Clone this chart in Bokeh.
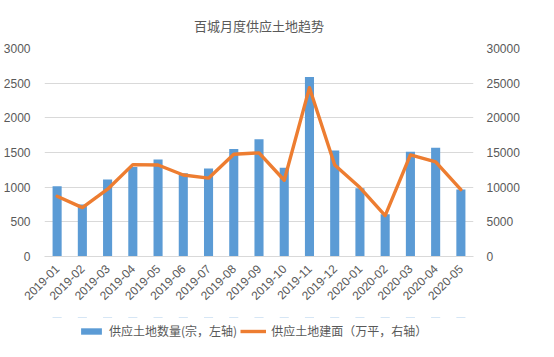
import math
from bokeh.plotting import figure
from bokeh.layouts import column
from bokeh.models import (Range1d, LinearAxis, FactorRange, Legend, LegendItem,
                          FixedTicker, ColumnDataSource)
from bokeh.embed import file_html
from bokeh.resources import INLINE

months = ["2019-01", "2019-02", "2019-03", "2019-04", "2019-05", "2019-06", "2019-07",
          "2019-08", "2019-09", "2019-10", "2019-11", "2019-12", "2020-01", "2020-02",
          "2020-03", "2020-04", "2020-05"]
land_count = [1015, 750, 1110, 1290, 1400, 1200, 1270, 1550, 1690, 1280, 2590, 1530,
              985, 610, 1510, 1570, 965]
land_area = [8700, 7050, 9700, 13250, 13200, 11750, 11300, 14750, 14950, 11000, 24350,
             13200, 9950, 5900, 14650, 13650, 9650]
left_ticks = [0, 500, 1000, 1500, 2000, 2500, 3000]
right_ticks = [0, 5000, 10000, 15000, 20000, 25000, 30000]

title = "百城月度供应土地趋势"
label_bar = "供应土地数量(宗，左轴)"
label_line = "供应土地建面（万平，右轴）"

GRAY = "#595959"
GRID = "#D9D9D9"
BLUE = "#5B9BD5"
ORANGE = "#ED7D31"

src = ColumnDataSource(dict(m=months, c=land_count, a=land_area))

p = figure(width=538, height=317, x_range=FactorRange(*months, range_padding=0),
           y_range=Range1d(left_ticks[0], left_ticks[-1]),
           output_backend="svg", toolbar_location=None,
           min_border_left=44, min_border_right=65, min_border_top=48, min_border_bottom=61)
p.extra_y_ranges = {"right": Range1d(right_ticks[0], right_ticks[-1])}

p.title.text = title
p.title.align = "center"
p.title.text_font = "Noto Sans CJK SC"
p.title.text_font_size = "13px"
p.title.text_font_style = "normal"
p.title.text_color = GRAY
p.title.standoff = 27

p.outline_line_color = None
p.background_fill_color = "white"
p.border_fill_color = "white"

bars = p.vbar(x="m", top="c", width=0.36, source=src, color=BLUE, line_color=None)
line = p.line(x="m", y="a", source=src, y_range_name="right", line_color=ORANGE,
              line_width=3.4, line_join="round", line_cap="round")

p.yaxis.ticker = FixedTicker(ticks=left_ticks)
p.yaxis.axis_line_color = None
p.yaxis.major_tick_line_color = None
p.yaxis.minor_tick_line_color = None
p.yaxis.major_label_text_color = GRAY
p.yaxis.major_label_text_font = "Liberation Sans"
p.yaxis.major_label_text_font_size = "12px"
p.yaxis.major_label_standoff = 8

ra = LinearAxis(y_range_name="right", ticker=FixedTicker(ticks=right_ticks))
ra.axis_line_color = None
ra.major_tick_line_color = None
ra.minor_tick_line_color = None
ra.major_label_text_color = GRAY
ra.major_label_text_font = "Liberation Sans"
ra.major_label_text_font_size = "12px"
ra.major_label_standoff = 7
p.add_layout(ra, "right")

p.xaxis.axis_line_color = GRID
p.xaxis.major_tick_line_color = None
p.xaxis.minor_tick_line_color = None
p.xaxis.major_label_orientation = math.pi / 4
p.xaxis.major_label_text_color = GRAY
p.xaxis.major_label_text_font = "Liberation Sans"
p.xaxis.major_label_text_font_size = "12px"
p.xaxis.major_label_standoff = 4

p.xgrid.grid_line_color = None
p.ygrid.grid_line_color = GRID
p.ygrid.ticker = FixedTicker(ticks=left_ticks)

# legend strip below the chart; its renderers use the same data but lie outside
# its (empty) view, so they only supply the legend swatches
leg = figure(width=538, height=24, x_range=p.x_range, y_range=Range1d(-2, -1),
             x_axis_location=None, y_axis_location=None, output_backend="svg",
             toolbar_location=None, min_border=0)
leg.outline_line_color = None
leg.grid.grid_line_color = None
leg_bar = leg.vbar(x="m", top="c", width=0.36, source=src, color=BLUE, line_color=None)
leg_line = leg.line(x="m", y="a", source=src, line_color=ORANGE, line_width=3.4)

legend = Legend(items=[LegendItem(label=label_bar, renderers=[leg_bar]),
                       LegendItem(label=label_line, renderers=[leg_line])],
                orientation="horizontal", location=(34, 2),
                label_text_font="Noto Sans CJK SC", label_text_font_size="12px",
                label_text_color=GRAY, glyph_width=26, glyph_height=8,
                spacing=3, label_standoff=5, padding=0, margin=0,
                border_line_color=None, background_fill_alpha=0)
leg.add_layout(legend, "center")

layout = column(p, leg, spacing=0)
open("out.html", "w").write(file_html(layout, INLINE))
